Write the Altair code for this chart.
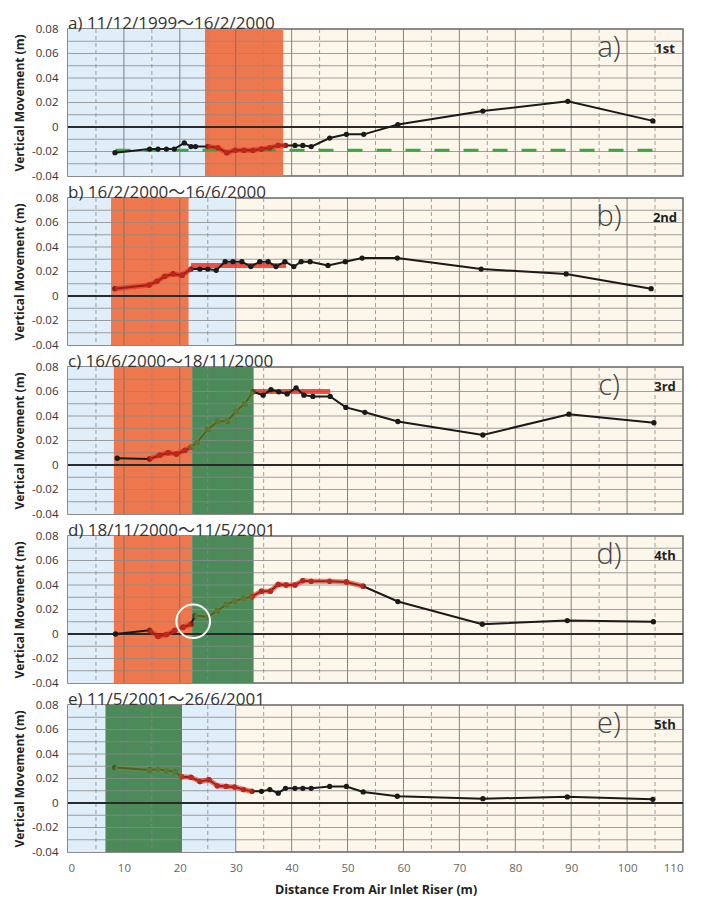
import altair as alt
import pandas as pd

FONT = "Open Sans, Noto Sans CJK JP, sans-serif"

panel_ids = ["a", "b", "c", "d", "e"]
panel_titles = ["a) 11/12/1999～16/2/2000", "b) 16/2/2000～16/6/2000",
                "c) 16/6/2000～18/11/2000", "d) 18/11/2000～11/5/2001",
                "e) 11/5/2001～26/6/2001"]
panel_ranks = ["1st", "2nd", "3rd", "4th", "5th"]

a_x = [8.4, 14.6, 16.1, 17.6, 19.0, 20.8, 22.0, 22.8, 25.0, 26.8, 28.4, 29.9, 31.5, 33.1, 34.6,
       36.1, 37.6, 38.9, 40.6, 42.0, 43.5, 46.8, 49.8, 52.9, 59.0, 74.2, 89.4, 104.6]
a_y = [-0.021, -0.018, -0.018, -0.018, -0.018, -0.013, -0.016, -0.016, -0.016, -0.017, -0.021,
       -0.019, -0.019, -0.019, -0.018, -0.017, -0.015, -0.015, -0.015, -0.015, -0.016, -0.009,
       -0.006, -0.006, 0.002, 0.013, 0.021, 0.005]

b_x = [8.4, 14.5, 15.9, 17.3, 18.8, 20.4, 22.0, 23.6, 25.0, 26.5, 28.1, 29.5, 31.1, 32.7, 34.3,
       35.8, 37.2, 38.8, 40.4, 41.7, 43.3, 46.5, 49.6, 52.6, 58.9, 73.9, 89.1, 104.3]
b_y = [0.006, 0.009, 0.012, 0.016, 0.018, 0.017, 0.022, 0.022, 0.022, 0.021, 0.028, 0.028,
       0.028, 0.024, 0.028, 0.028, 0.024, 0.028, 0.024, 0.028, 0.028, 0.025, 0.028, 0.031,
       0.031, 0.022, 0.018, 0.006]

c_x = [8.8, 14.6, 16.4, 17.9, 19.4, 20.9, 22.0, 23.1, 25.0, 26.8, 28.5, 30.1, 31.6, 33.1, 34.9,
       36.3, 37.7, 39.2, 40.8, 42.2, 43.8, 46.9, 49.7, 53.1, 59.0, 74.2, 89.6, 104.8]
c_y = [0.0055, 0.005, 0.008, 0.010, 0.009, 0.012, 0.0145, 0.0185, 0.029, 0.0355, 0.036, 0.044,
       0.050, 0.0597, 0.057, 0.0615, 0.0597, 0.058, 0.063, 0.057, 0.056, 0.056, 0.047, 0.043,
       0.0355, 0.0245, 0.0415, 0.0345]

d_x = [8.5, 14.6, 16.1, 17.6, 19.1, 20.6, 22.0, 22.7, 25.0, 26.7, 28.3, 29.8, 31.4, 32.9, 34.6,
       36.2, 37.6, 39.0, 40.6, 42.0, 43.5, 46.8, 49.8, 52.8, 59.0, 74.1, 89.3, 104.7]
d_y = [0.000, 0.003, -0.002, -0.0005, 0.003, 0.0055, 0.008, 0.015, 0.014, 0.019, 0.024, 0.027,
       0.029, 0.0305, 0.035, 0.035, 0.0405, 0.040, 0.040, 0.0435, 0.043, 0.043, 0.0425, 0.039,
       0.0265, 0.008, 0.011, 0.010]

e_x = [8.4, 14.6, 16.1, 17.6, 19.1, 20.3, 22.0, 23.6, 25.2, 26.7, 28.3, 29.8, 31.4, 32.9, 34.6,
       36.1, 37.6, 38.9, 40.6, 42.0, 43.5, 46.8, 49.8, 52.8, 58.9, 74.2, 89.3, 104.6]
e_y = [0.029, 0.027, 0.0275, 0.0265, 0.0255, 0.0215, 0.021, 0.0175, 0.019, 0.014, 0.0135, 0.013,
       0.011, 0.0095, 0.0095, 0.011, 0.008, 0.012, 0.012, 0.012, 0.012, 0.0135, 0.0135, 0.009,
       0.0055, 0.0035, 0.005, 0.003]

# background zones (blue = outside, orange = zone 1, green = zone 2)
reg_panel = ["a", "a", "b", "b", "b", "c", "c", "c", "d", "d", "d", "e", "e", "e"]
reg_x0 = [0, 24.5, 0, 7.7, 21.6, 0, 8.2, 22.2, 0, 8.2, 22.2, 0, 6.7, 20.4]
reg_x1 = [24.5, 38.5, 7.7, 21.6, 29.8, 8.2, 22.2, 33.2, 8.2, 22.2, 33.2, 6.7, 20.4, 30.0]
reg_kind = ["blue", "orange", "blue", "orange", "blue", "blue", "orange", "green",
            "blue", "orange", "green", "blue", "green", "blue"]

# coloured overlays that follow the survey line
ov_panel = ["a", "b", "c", "c", "d", "d", "d", "e", "e"]
ov_x0 = [25.0, 8.4, 14.6, 22.0, 14.6, 22.7, 32.9, 8.4, 20.3]
ov_x1 = [38.9, 22.0, 22.0, 33.1, 22.0, 32.9, 52.8, 20.3, 32.9]
ov_kind = ["red", "red", "red", "green", "red", "green", "red", "green", "red"]

# flat reference lines
fl_panel = ["a", "b", "c"]
fl_x0 = [8.5, 22.0, 33.1]
fl_x1 = [105.0, 39.0, 46.9]
fl_y = [-0.019, 0.025, 0.060]
fl_kind = ["greendash", "red", "red"]

circ_panel = ["d"]
circ_x = [22.4]
circ_y = [0.0104]

x_major = [10, 20, 30, 40, 50, 60, 70, 80, 90, 100]
x_minor = [5, 15, 25, 35, 45, 55, 65, 75, 85, 95, 105]
y_grid = [-0.03, -0.02, -0.01, 0.01, 0.02, 0.03, 0.04, 0.05, 0.06, 0.07]
y_labels = [-0.04, -0.02, 0, 0.02, 0.04, 0.06, 0.08]
x_labels = [0, 10, 20, 30, 40, 50, 60, 70, 80, 90, 100, 110]

rows = []
for pid, xs, ys in zip(panel_ids, [a_x, b_x, c_x, d_x, e_x], [a_y, b_y, c_y, d_y, e_y]):
    for x, y in zip(xs, ys):
        rows.append({"panel": pid, "x": x, "y": y})
df = pd.DataFrame(rows)

reg_df = pd.DataFrame({"panel": reg_panel, "x0": reg_x0, "x1": reg_x1, "kind": reg_kind})
fl_df = pd.DataFrame({"panel": fl_panel, "x0": fl_x0, "x1": fl_x1, "y": fl_y, "kind": fl_kind})
circ_df = pd.DataFrame({"panel": circ_panel, "x": circ_x, "y": circ_y})

W, H = 615, 147
xscale = alt.Scale(domain=[0, 110], nice=False, zero=False)
yscale = alt.Scale(domain=[-0.04, 0.08], nice=False, zero=False)
reg_colors = alt.Scale(domain=["blue", "orange", "green"], range=["#e0eefa", "#ee774d", "#4c8a5a"])
ov_colors = {"red": "#e8291c", "green": "#6f8f3a"}


def make_panel(i):
    pid = panel_ids[i]
    last = i == len(panel_ids) - 1
    if last:
        xaxis = alt.Axis(values=x_labels, title="Distance From Air Inlet Riser (m)", grid=False,
                         ticks=False, domain=False, labelFontSize=11.5, labelColor="#666",
                         labelPadding=10, titleFontSize=12.5, titleFontWeight="bold",
                         titleColor="#222", titlePadding=10, labelFont=FONT, titleFont=FONT)
    else:
        xaxis = None
    yaxis = alt.Axis(values=y_labels, title="Vertical Movement (m)", grid=False, ticks=False,
                     domain=False, labelFontSize=11.5, labelColor="#333", labelPadding=10,
                     labelExpr="datum.value == 0 ? '0' : replace(format(datum.value, '.2f'), '\u2212', '-')",
                     titleFontSize=12, titleFontWeight="bold", titleColor="#222", titlePadding=5,
                     labelFont=FONT, titleFont=FONT)

    def X(f):
        return alt.X(f, type="quantitative", scale=xscale, axis=xaxis)

    def Y(f):
        return alt.Y(f, type="quantitative", scale=yscale, axis=yaxis)

    layers = []
    rects = alt.Chart(reg_df).transform_filter(alt.datum.panel == pid).mark_rect().encode(
        x=X("x0"), x2="x1", y=alt.value(0), y2=alt.value(H),
        color=alt.Color("kind:N", scale=reg_colors, legend=None))
    layers.append(rects)

    layers.append(alt.Chart(pd.DataFrame({"v": x_minor})).mark_rule(
        color="#8a8a8a", strokeWidth=1, strokeDash=[4, 3], opacity=0.8).encode(x=X("v")))
    layers.append(alt.Chart(pd.DataFrame({"v": x_major})).mark_rule(
        color="#6f6f6f", strokeWidth=1, opacity=0.85).encode(x=X("v")))
    layers.append(alt.Chart(pd.DataFrame({"v": y_grid})).mark_rule(
        color="#8a8a8a", strokeWidth=1, opacity=0.8).encode(y=Y("v")))
    layers.append(alt.Chart(pd.DataFrame({"v": [0.0]})).mark_rule(
        color="#2a2a2a", strokeWidth=2).encode(y=Y("v")))

    sub = fl_df[fl_df.panel == pid]
    for _, r in sub.iterrows():
        one = pd.DataFrame({"x": [r.x0], "x1": [r.x1], "y": [r.y]})
        if r.kind == "greendash":
            layers.append(alt.Chart(one).mark_rule(color="#3aa842", strokeWidth=3,
                                                   strokeDash=[15, 14]).encode(
                x=X("x"), x2="x1", y=Y("y")))
        else:
            layers.append(alt.Chart(one).mark_rule(color=ov_colors["red"], strokeWidth=5,
                                                   opacity=0.8).encode(
                x=X("x"), x2="x1", y=Y("y")))

    base = alt.Chart(df).transform_filter(alt.datum.panel == pid)
    layers.append(base.mark_line(color="#1a1a1a", strokeWidth=2).encode(x=X("x"), y=Y("y")))
    layers.append(base.mark_circle(color="#1a1a1a", opacity=1, size=28).encode(x=X("x"), y=Y("y")))

    for p, x0, x1, k in zip(ov_panel, ov_x0, ov_x1, ov_kind):
        if p != pid:
            continue
        layers.append(base.transform_filter(
            (alt.datum.x >= x0 - 0.01) & (alt.datum.x <= x1 + 0.01)).mark_line(
            color=ov_colors[k], strokeWidth=5, opacity=0.6).encode(x=X("x"), y=Y("y")))
        layers.append(base.transform_filter(
            (alt.datum.x >= x0 - 0.01) & (alt.datum.x <= x1 + 0.01)).mark_circle(
            color=ov_colors[k], size=30, opacity=0.5).encode(x=X("x"), y=Y("y")))

    cd = circ_df[circ_df.panel == pid]
    if len(cd):
        layers.append(alt.Chart(cd).mark_point(shape="circle", filled=False, stroke="white",
                                               strokeWidth=2, size=1130, opacity=1).encode(
            x=X("x"), y=Y("y")))

    # panel heading drawn just above the frame
    layers.append(alt.Chart(pd.DataFrame({"t": [panel_titles[i]]})).mark_text(
        font=FONT, fontSize=17, fontWeight="normal", color="#333", align="left",
        baseline="alphabetic").encode(text="t:N", x=alt.value(0), y=alt.value(0)))

    layers.append(alt.Chart(pd.DataFrame({"t": [pid + ")"]})).mark_text(
        font=FONT, fontSize=29, fontWeight=300, color="#444", align="center",
        baseline="middle").encode(text="t:N", x=alt.value(541), y=alt.value(19)))
    layers.append(alt.Chart(pd.DataFrame({"t": [panel_ranks[i]]})).mark_text(
        font=FONT, fontSize=13, fontWeight="bold", color="#222", align="center",
        baseline="middle").encode(text="t:N", x=alt.value(597), y=alt.value(20)))

    return alt.layer(*layers).properties(width=W, height=H)


chart = alt.vconcat(*[make_panel(i) for i in range(5)], spacing=22, bounds="flush").properties(
    padding={"left": 4, "top": 6, "right": 5, "bottom": 0}
).configure_view(fill="#fdf6ea", stroke="#666", strokeWidth=1.5)

chart.save("out.html", embed_options={"renderer": "svg", "actions": False})
